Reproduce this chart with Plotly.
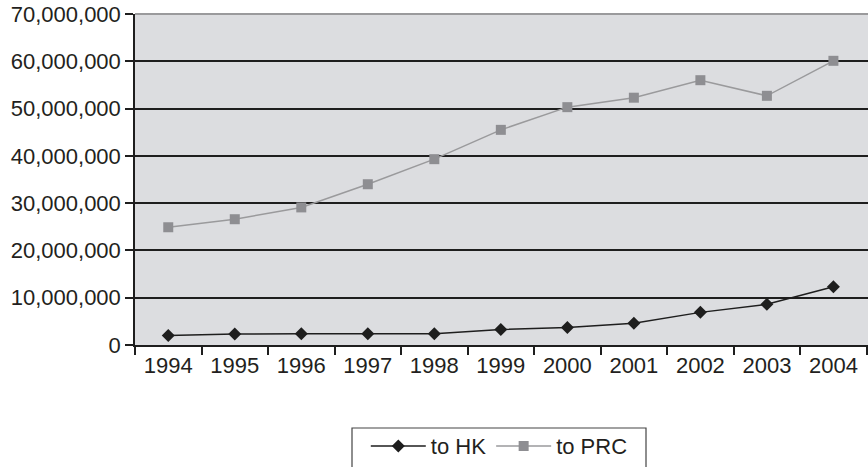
import plotly.graph_objects as go

years = ["1994", "1995", "1996", "1997", "1998", "1999", "2000", "2001", "2002", "2003", "2004"]
to_hk = [2.0e6, 2.3e6, 2.4e6, 2.4e6, 2.4e6, 3.3e6, 3.7e6, 4.6e6, 6.9e6, 8.6e6, 12.3e6]
to_prc = [24.9e6, 26.6e6, 29.1e6, 34.0e6, 39.3e6, 45.5e6, 50.3e6, 52.3e6, 56.0e6, 52.7e6, 60.1e6]
y_ticks = [0, 10e6, 20e6, 30e6, 40e6, 50e6, 60e6, 70e6]
y_tick_text = ["0", "10,000,000", "20,000,000", "30,000,000", "40,000,000",
               "50,000,000", "60,000,000", "70,000,000"]

FONT = "Liberation Sans, Arial, Helvetica, sans-serif"
FS = 22

fig = go.Figure()
fig.add_trace(go.Scatter(
    x=years, y=to_hk, name="to HK", mode="lines+markers",
    line=dict(color="#1e1e1e", width=1.5),
    marker=dict(symbol="diamond", size=10, color="#1e1e1e"),
))
fig.add_trace(go.Scatter(
    x=years, y=to_prc, name="to PRC", mode="lines+markers",
    line=dict(color="#9a9a9c", width=1.5),
    marker=dict(symbol="square", size=10, color="#8e8e92"),
))

L, T, W, H = 135, 14, 868, 467
B = H - 345

fig.update_layout(
    width=W, height=H,
    margin=dict(l=L, r=0, t=T, b=B, pad=0, autoexpand=False),
    paper_bgcolor="white",
    plot_bgcolor="#dcdde0",
    font=dict(family=FONT, size=FS, color="#231f20"),
    showlegend=True,
    legend=dict(
        orientation="h", x=0.497, xanchor="center", y=-0.242, yanchor="top",
        bgcolor="rgba(0,0,0,0)", borderwidth=0,
        font=dict(family=FONT, size=FS, color="#231f20"),
        itemwidth=55, tracegroupgap=0,
    ),
    xaxis=dict(
        type="category", range=[-0.5, 10.52], automargin=False,
        showgrid=False, zeroline=False,
        showline=True, linecolor="#1e1e1e", linewidth=1.5,
        ticks="outside", tickson="boundaries", ticklen=8, tickcolor="#1e1e1e", tickwidth=1.5,
        tickfont=dict(family=FONT, size=FS, color="#231f20"),
    ),
    yaxis=dict(
        range=[0, 70e6], tickvals=y_ticks, ticktext=y_tick_text, automargin=False,
        showgrid=True, gridcolor="#1e1e1e", gridwidth=1.5,
        zeroline=False,
        showline=True, linecolor="#1e1e1e", linewidth=1.5,
        ticks="outside", ticklen=8, tickcolor="#1e1e1e", tickwidth=1.5,
        tickfont=dict(family=FONT, size=FS, color="#231f20"),
    ),
    shapes=[
        dict(type="line", xref="paper", yref="paper", x0=0, x1=1, y0=1, y1=1,
             line=dict(color="#9a9a9c", width=2)),
        dict(type="rect", xref="paper", yref="paper",
             x0=(352 - L) / 733, x1=(646 - L) / 733,
             y0=(345 - 428) / 331, y1=(345 - 490) / 331,
             line=dict(color="#444444", width=1.2), fillcolor="rgba(0,0,0,0)"),
    ],
)

fig.write_html(
    "out.html",
    config={"displayModeBar": False},
    post_script="document.body.style.margin='0';document.body.style.padding='0';"
                "document.body.style.overflow='hidden';",
)
